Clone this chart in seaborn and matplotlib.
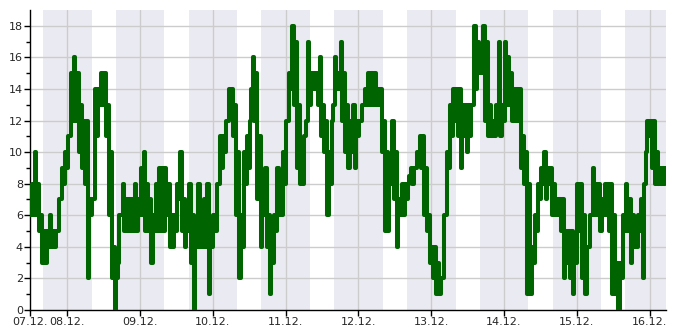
import numpy as np
import pandas as pd
import matplotlib
matplotlib.use("Agg")
import matplotlib.pyplot as plt
import matplotlib.dates as mdates
import seaborn as sns

# hourly envelope (low / high), starting 07.12. ~11:42
low = [6, 6, 6, 5, 3, 3, 4, 4, 4, 5, 7, 8, 9, 11, 12, 12, 10, 9, 8, 2,
       6, 7, 11, 13, 13, 11, 6, 2, 0, 3, 6, 5, 5, 5, 5, 5, 6, 6, 5, 5,
       3, 5, 5, 5, 5, 6, 4, 4, 5, 7, 5, 4, 5, 3, 0, 4, 4, 4, 4, 1,
       4, 5, 8, 9, 10, 12, 13, 11, 6, 2, 4, 8, 9, 14, 12, 7, 4, 6, 4, 1,
       3, 5, 6, 6, 8, 12, 14, 13, 9, 8, 8, 12, 13, 14, 14, 13, 11, 10, 6, 8,
       13, 14, 14, 12, 10, 9, 10, 9, 11, 12, 13, 13, 13, 13, 13, 13, 10, 5, 5, 8,
       7, 4, 6, 6, 7, 8.5, 8, 9, 10, 9, 6, 5, 3, 2, 1, 1, 2, 6, 9, 11,
       12, 11, 9, 11, 10, 11, 13, 14, 15, 15, 12, 11, 11, 11, 13, 11, 12, 13, 13, 12,
       12, 12, 9, 8, 1, 1, 3, 5, 7, 8, 7, 8, 6, 6, 6, 5, 2, 3, 2, 1,
       3, 5, 2, 1, 4, 6, 6, 6, 5, 6, 6, 5, 1, 1, 0, 2, 5, 5, 3, 4,
       4, 5, 2, 10, 11, 9, 8, 8, 8, 8]
high = [8, 10, 8, 6, 5, 5, 6, 5, 5, 7, 9, 10, 11, 15, 16, 15, 13, 12, 12, 7,
        7, 14, 14, 15, 15, 13, 10, 4, 2, 6, 8, 7, 7, 7, 8, 7, 9, 10, 8, 7,
        6, 8, 9, 9, 9, 8, 6, 6, 8, 10, 7, 6, 8, 6, 5, 8, 6, 7, 8, 5,
        6, 8, 11, 11, 12, 14, 14, 13, 10, 6, 10, 11, 12, 16, 15, 11, 7, 9, 6, 5,
        6, 9, 8, 10, 12, 15, 18, 17, 13, 10, 11, 17, 15, 15, 15, 16, 13, 12, 10, 12,
        16, 15, 17, 15, 13, 12, 13, 12, 12, 13, 14, 15, 15, 15, 14, 14, 12, 10, 9, 12,
        10, 7, 8, 8, 8, 9, 9, 10, 11, 11, 9, 6, 4, 4, 3, 2, 6, 10, 13, 14,
        14, 14, 13, 13, 13, 13, 18, 17, 16, 18, 17, 13, 12, 13, 17, 13, 17, 16, 15, 14,
        14, 14, 11, 10, 8, 4, 6, 8, 9, 10, 9, 9, 8, 7, 7, 7, 5, 5, 5, 4,
        8, 8, 6, 4, 6, 9, 8, 8, 7, 8, 8, 8, 6, 3, 3, 6, 8, 7, 6, 5,
        6, 7, 8, 12, 12, 12, 10, 9, 9, 9]

day_labels = ["07.12.", "08.12.", "09.12.", "10.12.", "11.12.", "12.12.",
              "13.12.", "14.12.", "15.12.", "16.12."]

start = pd.Timestamp("2023-12-07 11:42")
hours = np.arange(len(low))
times, values = [], []
for h, lo, hi in zip(hours, low, high):
    times += [start + pd.Timedelta(hours=float(h)), start + pd.Timedelta(hours=float(h) + 0.5)]
    values += [lo, hi]
df = pd.DataFrame({"time": times, "value": values})
end = start + pd.Timedelta(hours=209.7)

sns.set_theme(style="white")
plt.rcParams["font.family"] = ["DejaVu Sans"]

fig = plt.figure(figsize=(6.85, 3.30), dpi=100)
ax = fig.add_axes([30 / 685, 1 - 310 / 330, (666 - 30) / 685, 300 / 330])

# night bands 16:00 - 08:00
d0 = pd.Timestamp("2023-12-07")
for i in range(11):
    a = d0 + pd.Timedelta(days=i) + pd.Timedelta(hours=16)
    b = a + pd.Timedelta(hours=16)
    ax.axvspan(a, b, color="#eaeaf2", lw=0, zorder=0)

sns.lineplot(data=df, x="time", y="value", ax=ax, color="#006400",
             lw=2.9, drawstyle="steps-post", estimator=None, zorder=3)

ax.set_xlim(start, end)
ax.set_ylim(0, 19)
ax.set_xlabel("")
ax.set_ylabel("")

mids = [d0 + pd.Timedelta(days=i) for i in range(1, 10)]
ax.set_xticks([start] + mids)
ax.set_xticklabels(day_labels)
ax.set_yticks(range(0, 19, 2))
ax.set_yticks(range(0, 19), minor=True)

for m in mids:
    ax.axvline(m, color="#cccccc", lw=1, zorder=1)
for y in range(2, 19, 2):
    ax.axhline(y, color="#cccccc", lw=1, zorder=1)

for s in ["top", "right"]:
    ax.spines[s].set_visible(False)
for s in ["left", "bottom"]:
    ax.spines[s].set_color("black")
    ax.spines[s].set_linewidth(1)
ax.tick_params(axis="both", which="major", labelsize=8, length=4, width=1,
               color="black", pad=1, left=True, bottom=True)
ax.tick_params(axis="y", which="minor", length=3, width=1, color="black", left=True)
ax.tick_params(axis="x", which="minor", bottom=False)

fig.savefig("out.png", dpi=100)
